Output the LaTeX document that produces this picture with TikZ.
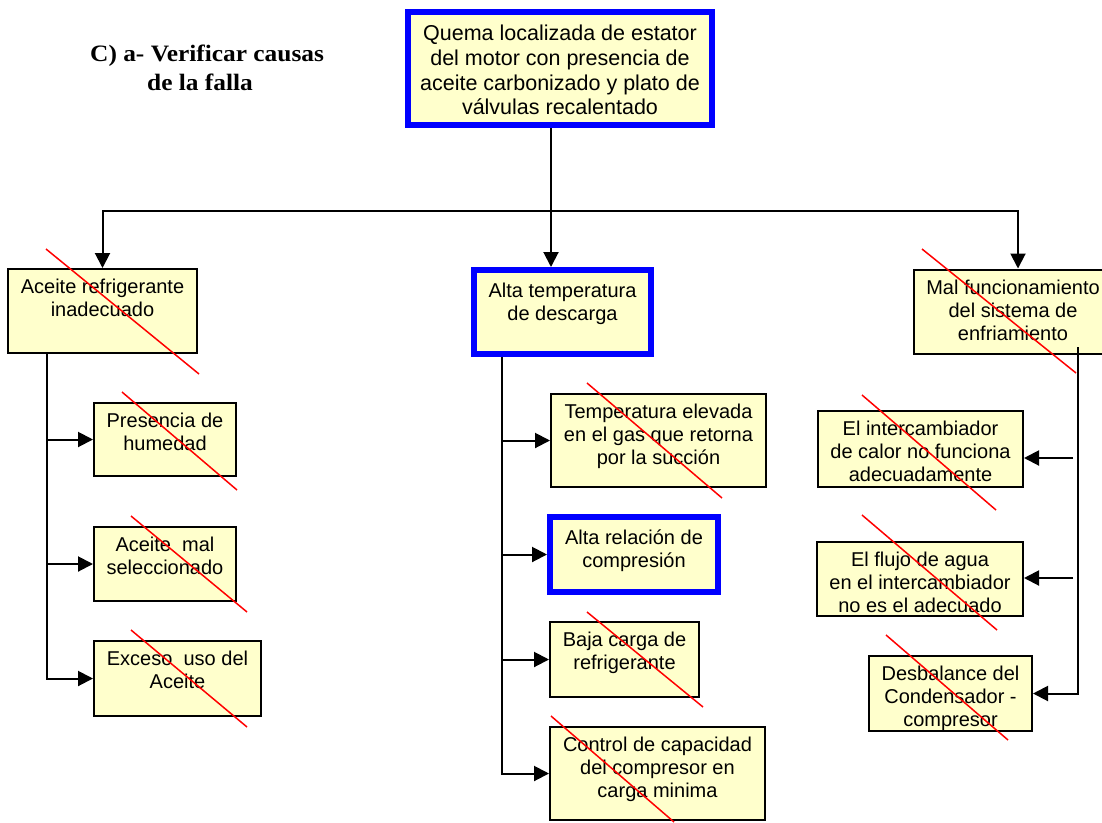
\documentclass[tikz,border=0pt]{standalone}
\usepackage{fontspec}
\setsansfont{Liberation Sans}
\newfontfamily\headfont{Liberation Serif}[FakeStretch=1.08]
\usetikzlibrary{arrows.meta, positioning}
\definecolor{boxfill}{HTML}{FFFFCC}

\tikzset{
  box/.style={draw=black, line width=2pt, fill=boxfill, inner sep=0pt},
  keybox/.style={box, draw=blue, line width=6pt},
  txt/.style={font=\sffamily\fontsize{20}{23}\selectfont, align=center, inner sep=0pt},
  wire/.style={line width=2pt},
  link/.style={wire, -{Triangle[length=15pt, width=15pt]}},
  cross/.style={red, line width=1.5pt},
}

\begin{document}
\begin{tikzpicture}[x=1pt, y=-1pt]
    \useasboundingbox (0,0) rectangle (1102,822);

    % Heading
    \node[font=\headfont\bfseries\fontsize{23.5}{29}\selectfont, align=left, anchor=north west, inner sep=0pt]
        (title) at (90,45) {C) a- Verificar causas\\\hspace*{57pt}de la falla};

    % Failure at the top
    \node[keybox, minimum width=304, minimum height=113] (falla) at (560,68.5) {};
    \node[txt, font=\sffamily\fontsize{21.5}{24.7}\selectfont, below=16pt of falla.north]
        {Quema localizada de estator\\del motor con presencia de\\aceite carbonizado y plato de\\válvulas recalentado};

    % Three main causes
    \node[box, minimum width=189, minimum height=84] (aceite) at (102.5,311) {};
    \node[txt, below=11pt of aceite.north] {Aceite refrigerante\\inadecuado};
    \node[keybox, minimum width=177, minimum height=84] (temp) at (562.5,312) {};
    \node[txt, below=16pt of temp.north] {Alta temperatura\\de descarga};
    \node[box, minimum width=198, minimum height=84] (enfr) at (1013,311.5) {};
    \node[txt, below=11pt of enfr.north] {Mal funcionamiento\\del sistema de\\enfriamiento};

    % Left column
    \node[box, minimum width=142, minimum height=73] (humedad) at (165,439.5) {};
    \node[txt, below=11pt of humedad.north] {Presencia de\\humedad};
    \node[box, minimum width=142, minimum height=74] (malsel) at (165,564) {};
    \node[txt, below=11pt of malsel.north] {Aceite\ \ mal\\seleccionado};
    \node[box, minimum width=167, minimum height=75] (exceso) at (177.5,678.5) {};
    \node[txt, below=11pt of exceso.north] {Exceso\ \ uso del\\Aceite};

    % Middle column
    \node[box, minimum width=215, minimum height=93] (retorno) at (658.5,440.5) {};
    \node[txt, below=11pt of retorno.north] {Temperatura elevada\\en el gas que retorna\\por la succión};
    \node[keybox, minimum width=168, minimum height=75] (relacion) at (634,554.5) {};
    \node[txt, below=16pt of relacion.north] {Alta relación de\\compresión};
    \node[box, minimum width=149, minimum height=75] (carga) at (624.5,659.5) {};
    \node[txt, below=11pt of carga.north] {Baja carga de\\refrigerante};
    \node[box, minimum width=215, minimum height=93] (control) at (657.5,773.5) {};
    \node[txt, below=11pt of control.north] {Control de capacidad\\del compresor en\\carga minima};

    % Right column
    \node[box, minimum width=205, minimum height=76] (interc) at (920.5,449) {};
    \node[txt, below=11pt of interc.north] {El intercambiador\\de calor no funciona\\adecuadamente};
    \node[box, minimum width=206, minimum height=74] (flujo) at (920,579) {};
    \node[txt, below=11pt of flujo.north] {El flujo de agua\\en el intercambiador\\no es el adecuado};
    \node[box, minimum width=163, minimum height=75] (desbal) at (950.5,693.5) {};
    \node[txt, below=11pt of desbal.north] {Desbalance del\\Condensador -\\compresor};

    % Connectors
    \coordinate (split) at (551,211);
    \draw[wire] (falla.south -| split) -- (split);
    \draw[link] (split) -- (split |- temp.north);
    \draw[link] (split) -| (aceite.north);
    \draw[link] (split) -| ([xshift=5pt]enfr.north);

    \coordinate (lt) at (47,354);
    \draw[link] (lt) |- (exceso.west);
    \draw[link] (lt |- humedad.west) -- (humedad.west);
    \draw[link] (lt |- malsel.west) -- (malsel.west);

    \coordinate (mt) at (502,357);
    \draw[link] (mt) |- (control.west);
    \draw[link] (mt |- retorno.west) -- (retorno.west);
    \draw[link] (mt |- relacion.west) -- (relacion.west);
    \draw[link] (mt |- carga.west) -- (carga.west);

    \coordinate (rt) at (1078,347);
    \coordinate (interc-in) at (1073,458);
    \coordinate (flujo-in) at (1073,578);
    \draw[link] (rt) |- (desbal.east);
    \draw[link] (interc-in) -- (interc-in -| interc.east);
    \draw[link] (flujo-in) -- (flujo-in -| flujo.east);

    % Causes ruled out
    \draw[cross] (46,249) -- (199,374);
    \draw[cross] (122,392) -- (237,490);
    \draw[cross] (131,516) -- (247,612);
    \draw[cross] (131,630) -- (247,727);
    \draw[cross] (587,383) -- (722,498);
    \draw[cross] (587,612) -- (703,707);
    \draw[cross] (551,716) -- (674,822);
    \draw[cross] (922,249) -- (1076,373);
    \draw[cross] (862,395) -- (996,510);
    \draw[cross] (862,515) -- (997,630);
    \draw[cross] (886,635) -- (1008,740);
\end{tikzpicture}
\end{document}
